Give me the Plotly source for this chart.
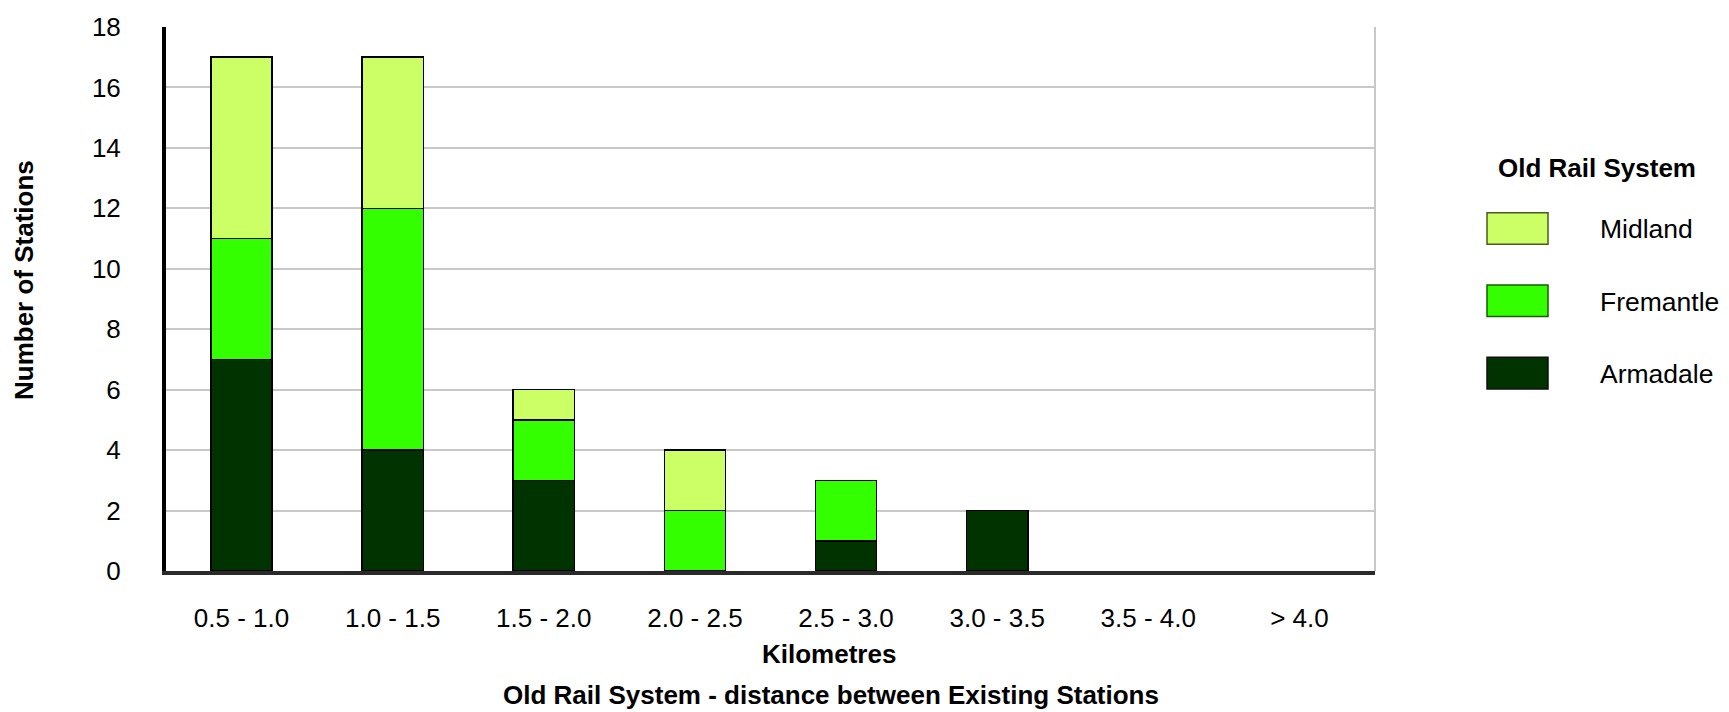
import plotly.graph_objects as go

# ---- data ----
categories = ["0.5 - 1.0", "1.0 - 1.5", "1.5 - 2.0", "2.0 - 2.5",
              "2.5 - 3.0", "3.0 - 3.5", "3.5 - 4.0", "> 4.0"]
armadale = [7, 4, 3, 0, 1, 2, 0, 0]
fremantle = [4, 8, 2, 2, 2, 0, 0, 0]
midland = [6, 5, 1, 2, 0, 0, 0, 0]
series_names = ["Armadale", "Fremantle", "Midland"]
series_values = [armadale, fremantle, midland]
series_colors = ["#003300", "#33FF00", "#CCFF66"]
legend_border = ["#111111", "#1a5c00", "#4a5a20"]

y_ticks = [0, 2, 4, 6, 8, 10, 12, 14, 16, 18]

# ---- layout geometry (pixels) ----
W, H = 1729, 712
L, R, T, B = 166, 1375, 27, 571
FONT = "Liberation Sans, Arial, sans-serif"
FS = 26


def px_x(px):
    return (px - L) / (R - L)


def px_y(py):
    return (B - py) / (B - T)


fig = go.Figure()
for name, vals, col in zip(series_names, series_values, series_colors):
    fig.add_trace(go.Bar(
        x=categories, y=[v if v else None for v in vals], name=name,
        marker=dict(color=col, line=dict(color="#000000", width=1.5)),
        showlegend=False,
    ))

shapes = []
annotations = []

# right border of plot area
shapes.append(dict(type="line", xref="paper", yref="paper", x0=1, x1=1, y0=0, y1=1,
                   line=dict(color="#C8C8C8", width=2)))

# legend (manual, top to bottom: Midland, Fremantle, Armadale)
annotations.append(dict(text="<b>Old Rail System</b>", xref="paper", yref="paper",
                        x=px_x(1596.5), y=px_y(168), xanchor="center", yanchor="middle",
                        showarrow=False, font=dict(family=FONT, size=FS, color="#000")))
order = [2, 1, 0]
for i, idx in enumerate(order):
    top = 212.7 + i * 72.3
    bot = top + 31.6
    shapes.append(dict(type="rect", xref="paper", yref="paper",
                       x0=px_x(1487), x1=px_x(1548), y0=px_y(bot), y1=px_y(top),
                       fillcolor=series_colors[idx],
                       line=dict(color=legend_border[idx], width=1.5)))
    annotations.append(dict(text=series_names[idx], xref="paper", yref="paper",
                            x=px_x(1598), y=px_y((top + bot) / 2 + 1),
                            xanchor="left", yanchor="middle", showarrow=False,
                            font=dict(family=FONT, size=26.5, color="#000")))

# axis titles and chart title
annotations.append(dict(text="<b>Number of Stations</b>", xref="paper", yref="paper",
                        x=px_x(23.5), y=px_y(280.5), xanchor="center", yanchor="middle",
                        textangle=-90, showarrow=False,
                        font=dict(family=FONT, size=FS, color="#000")))
annotations.append(dict(text="<b>Kilometres</b>", xref="paper", yref="paper",
                        x=px_x(828.5), y=px_y(654), xanchor="center", yanchor="middle",
                        showarrow=False, font=dict(family=FONT, size=FS, color="#000")))
annotations.append(dict(text="<b>Old Rail System - distance between Existing Stations</b>",
                        xref="paper", yref="paper",
                        x=px_x(830.5), y=px_y(695), xanchor="center", yanchor="middle",
                        showarrow=False, font=dict(family=FONT, size=FS, color="#000")))

fig.update_layout(
    width=W, height=H,
    margin=dict(l=L, r=W - R, t=T, b=H - B, pad=0),
    paper_bgcolor="white", plot_bgcolor="white",
    barmode="stack", bargap=0.595,
    font=dict(family=FONT, size=FS, color="#000"),
    shapes=shapes, annotations=annotations,
    xaxis=dict(
        type="category", categoryorder="array", categoryarray=categories,
        showline=True, linecolor="#2a2a2a", linewidth=4,
        showgrid=False, ticks="", ticklabelstandoff=21,
        tickfont=dict(family=FONT, size=FS, color="#000"),
    ),
    yaxis=dict(
        range=[0, 18], tickvals=y_ticks, ticktext=[str(v) for v in y_ticks],
        showline=True, linecolor="#000000", linewidth=4,
        showgrid=True, gridcolor="#C8C8C8", gridwidth=1.5,
        zeroline=False, ticks="", ticklabelstandoff=36,
        tickfont=dict(family=FONT, size=FS, color="#000"),
    ),
)

fig.write_html("out.html")
